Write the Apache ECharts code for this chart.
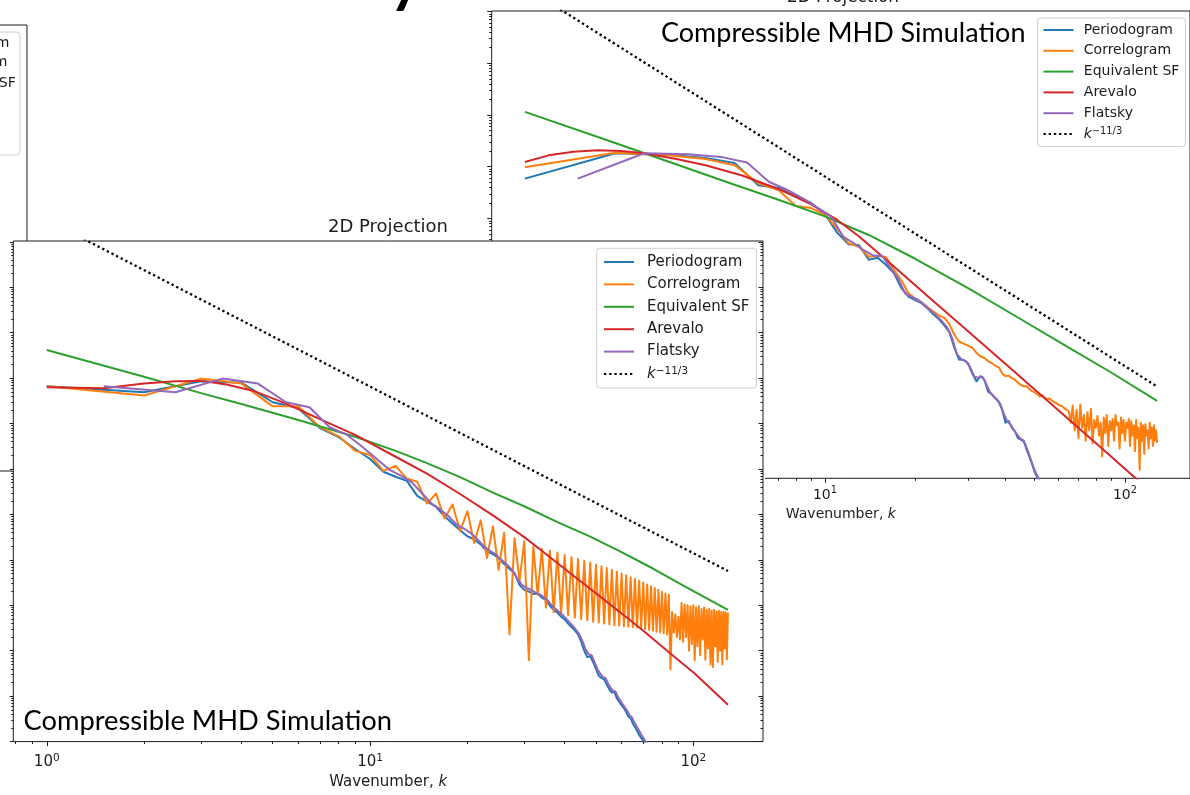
<!DOCTYPE html>
<html><head><meta charset="utf-8">
<script src="https://cdn.jsdelivr.net/npm/echarts@6/dist/echarts.min.js"></script>
<style>html,body{margin:0;padding:0;background:#fff}#c{width:1190px;height:795px}</style>
</head><body><div id="c"></div><script>
// ---------------- data (power values stored as log10) ----------------
const K_INT = [1,2,3,4,5,6,7,8,9,10,11,12,13,14,15,16,17,18,19,20,21,22,23,24,25,26,27,28,29,30,31,32,33,34,35,36,37,38,39,40,41,42,43,44,45,46,47,48,49,50,51,52,53,54,55,56,57,58,59,60,61,62,63,64,65,66,67,68,69,70,71,72,73,74,75,76,77,78,79,80,81,82,83,84,85,86,87,88,89,90,91,92,93,94,95,96,97,98,99,100,101,102,103,104,105,106,107,108,109,110,111,112,113,114,115,116,117,118,119,120,121,122,123,124,125,126,127,128];
const K_HALF = [1.5,2.5,3.5,4.5,5.5,6.5,7.5,8.5,9.5,10.5,11.5,12.5,13.5,14.5,15.5,16.5,17.5,18.5,19.5,20.5,21.5,22.5,23.5,24.5,25.5,26.5,27.5,28.5,29.5,30.5,31.5,32.5,33.5,34.5,35.5,36.5,37.5,38.5,39.5,40.5,41.5,42.5,43.5,44.5,45.5,46.5,47.5,48.5,49.5,50.5,51.5,52.5,53.5,54.5,55.5,56.5,57.5,58.5,59.5,60.5,61.5,62.5,63.5,64.5,65.5,66.5,67.5,68.5,69.5,70.5,71.5,72.5];

// Front panel (2D Projection, lower-left)
const FRONT_PERIODOGRAM = [-2.18,-2.31,-2.07,-2.10,-2.53,-2.66,-3.10,-3.30,-3.56,-3.78,
 -4.06,-4.17,-4.26,-4.59,-4.72,-4.83,-5.04,-5.20,-5.35,-5.48,
 -5.55,-5.66,-5.81,-5.87,-5.96,-6.09,-6.20,-6.29,-6.55,-6.66,
 -6.70,-6.75,-6.74,-6.83,-6.88,-7.01,-7.10,-7.16,-7.25,-7.31,
 -7.40,-7.48,-7.55,-7.64,-7.80,-8.00,-8.14,-8.12,-8.25,-8.40,
 -8.55,-8.60,-8.63,-8.75,-8.85,-8.92,-8.90,-9.05,-9.12,-9.20,
 -9.26,-9.35,-9.45,-9.48,-9.60,-9.68,-9.76,-9.85,-9.92,-9.98,
 -10.05,-10.12];
const FRONT_CORRELOGRAM = [-2.18,-2.38,-2.01,-2.12,-2.62,-2.62,-3.08,-3.28,-3.60,-3.69,
 -4.04,-3.93,-4.21,-4.28,-4.76,-4.54,-5.09,-4.78,-5.37,-4.93,
 -5.63,-5.13,-5.96,-5.26,-6.22,-5.40,-7.64,-5.52,-6.46,-5.59,
 -8.21,-5.70,-6.77,-5.76,-7.05,-5.80,-7.15,-5.84,-7.20,-5.89,
 -7.22,-5.94,-7.27,-5.98,-7.30,-6.02,-7.33,-6.06,-7.36,-6.10,
 -7.38,-6.14,-7.40,-6.18,-7.42,-6.22,-7.44,-6.26,-7.45,-6.30,
 -7.46,-6.34,-7.47,-6.38,-7.48,-6.42,-7.49,-6.46,-7.50,-6.50,
 -7.52,-6.54,-7.54,-6.58,-7.56,-6.62,-7.58,-6.66,-7.60,-6.70,
 -7.62,-6.74,-7.64,-6.77,-8.41,-7.15,-7.60,-7.20,-7.70,-7.25,
 -7.75,-6.95,-7.80,-6.98,-7.70,-7.00,-8.00,-7.02,-7.85,-7.00,
 -8.21,-7.05,-7.90,-7.02,-8.10,-7.08,-7.75,-7.05,-8.20,-7.10,
 -7.95,-7.08,-8.30,-7.12,-8.36,-7.10,-7.90,-7.14,-8.25,-7.12,
 -8.00,-7.15,-8.30,-7.14,-7.95,-7.16,-8.19,-7.16];
const FRONT_EQUIV_SF = [[1,-1.38],[2,-1.97],[3,-2.33],[4,-2.57],[6,-2.92],[9,-3.29],[12,-3.60],[15,-3.87],[19,-4.18],[24,-4.52],[30,-4.82],[38,-5.17],[48,-5.49],[60,-5.83],[75,-6.19],[95,-6.60],[128,-7.10]];
const FRONT_AREVALO = [[1,-2.20],[1.5,-2.22],[2,-2.12],[2.5,-2.07],[3,-2.06],[3.6,-2.14],[4.4,-2.29],[5.5,-2.56],[7,-2.90],[9,-3.25],[12,-3.73],[15,-4.10],[19,-4.55],[24,-5.02],[30,-5.50],[34,-5.80],[43,-6.37],[54,-6.92],[69,-7.52],[87,-8.12],[101,-8.50],[128,-9.19]];
const FRONT_FLATSKY = [-2.18,-2.31,-2.01,-2.12,-2.53,-2.64,-3.08,-3.25,-3.52,-3.78,
 -4.02,-4.15,-4.30,-4.54,-4.76,-4.89,-5.04,-5.22,-5.31,-5.41,
 -5.55,-5.70,-5.80,-5.88,-6.00,-6.10,-6.22,-6.40,-6.55,-6.62,
 -6.66,-6.72,-6.76,-6.82,-6.90,-7.00,-7.08,-7.15,-7.22,-7.30,
 -7.38,-7.46,-7.55,-7.65,-7.80,-7.98,-8.08,-8.10,-8.25,-8.40,
 -8.50,-8.58,-8.60,-8.72,-8.82,-8.88,-8.90,-9.02,-9.10,-9.18,
 -9.25,-9.32,-9.42,-9.46,-9.56,-9.64,-9.72,-9.80,-9.88,-9.95,
 -10.02,-10.10];
const FRONT_KOLMOGOROV = [[1,1.482],[128,-6.245]];

// Back panel (2D Projection, upper-right)
const BACK_PERIODOGRAM = [-3.23,-2.74,-2.77,-2.83,-2.93,-3.36,-3.41,-3.57,-3.70,-3.92,
 -4.28,-4.50,-4.52,-4.80,-4.76,-4.90,-5.06,-5.35,-5.51,-5.58,
 -5.64,-5.74,-5.86,-5.95,-6.07,-6.20,-6.50,-6.73,-6.74,-6.80,
 -7.00,-7.15,-7.05,-7.12,-7.35,-7.40,-7.48,-7.55,-7.70,-7.95,
 -7.92,-8.05,-8.12,-8.25,-8.28,-8.30,-8.47,-8.60,-8.75,-8.90,
 -9.00,-9.10];
const BACK_CORRELOGRAM = [-3.01,-2.73,-2.78,-2.85,-2.97,-3.32,-3.45,-3.76,-3.80,-3.93,
 -4.20,-4.48,-4.55,-4.74,-4.72,-4.75,-5.00,-5.20,-5.45,-5.55,
 -5.62,-5.72,-5.80,-5.88,-5.92,-6.05,-6.25,-6.38,-6.42,-6.46,
 -6.50,-6.60,-6.67,-6.70,-6.76,-6.80,-6.85,-6.88,-7.00,-7.05,
 -7.04,-7.09,-7.12,-7.18,-7.22,-7.25,-7.24,-7.30,-7.34,-7.36,
 -7.40,-7.44,-7.42,-7.47,-7.50,-7.48,-7.52,-7.55,-7.57,-7.60,
 -7.62,-7.64,-7.68,-7.70,-7.73,
 -7.95,-7.62,-8.10,-7.70,-8.25,-7.60,-8.05,-7.80,-8.30,-7.75,
 -8.10,-7.68,-8.35,-7.90,-8.05,-7.82,-8.20,-7.95,-8.60,-7.85,
 -8.15,-7.80,-8.40,-7.92,-8.10,-7.88,-8.30,-7.80,-8.00,-7.95,
 -8.45,-7.85,-8.15,-7.90,-8.30,-7.95,-8.05,-7.88,-8.40,-7.92,
 -8.20,-8.00,-8.50,-7.90,-8.25,-8.05,-8.86,-7.95,-8.30,-8.00,
 -8.55,-7.98,-8.20,-8.10,-8.45,-7.95,-8.25,-8.05,-8.40,-8.00,
 -8.30,-8.10,-8.34];
const BACK_EQUIV_SF = [[1,-1.94],[2,-2.54],[3,-2.90],[5,-3.35],[7,-3.64],[10,-3.96],[14,-4.32],[20,-4.78],[30,-5.35],[45,-5.95],[65,-6.50],[90,-6.98],[128,-7.53]];
const BACK_AREVALO = [[1,-2.91],[1.2,-2.78],[1.45,-2.71],[1.75,-2.68],[2.1,-2.695],[2.5,-2.74],[3.2,-2.85],[4,-2.97],[5.3,-3.17],[7.2,-3.46],[9,-3.73],[11,-4.03],[13,-4.35],[16,-4.80],[21.5,-5.45],[30,-6.18],[42,-6.92],[60,-7.71],[85,-8.48],[106,-8.97],[128,-9.39]];
const BACK_FLATSKY = [-3.23,-2.74,-2.76,-2.81,-2.92,-3.29,-3.45,-3.62,-3.80,-3.97,
 -4.35,-4.48,-4.62,-4.72,-4.72,-4.95,-5.15,-5.45,-5.52,-5.58,
 -5.68,-5.78,-5.88,-5.98,-6.10,-6.30,-6.62,-6.72,-6.76,-6.88,
 -7.06,-7.08,-7.06,-7.20,-7.36,-7.44,-7.50,-7.60,-7.78,-7.92,
 -7.98,-8.08,-8.16,-8.24,-8.28,-8.36,-8.50,-8.65,-8.80,-8.92,
 -9.02,-9.12];
const BACK_KOLMOGOROV = [[1,0.476],[128,-7.25]];

const SERIES_NAMES = ['Periodogram','Correlogram','Equivalent SF','Arevalo','Flatsky','k^{-11/3}'];
const X_TICK_LABELS = [1, 10, 100];

// ---------------- helpers ----------------
const F = '"DejaVu Sans"';
const INK = '#1c1c1c';
const COLORS = ['#1f77b4','#ff7f0e','#2ca02c','#d62728','#9467bd','#000000'];
const pts = (ks, logs) => logs.map((e, i) => [ks[i], Math.pow(10, e)]);
const pairPts = arr => arr.map(p => [p[0], Math.pow(10, p[1])]);

function majors(lo, hi) { const o = []; for (let e = -12; e <= 4; e++) { const v = Math.pow(10, e); if (v >= lo * 0.9999 && v <= hi * 1.0001) o.push(v); } return o; }
function minors(lo, hi) { const o = []; for (let e = -12; e <= 4; e++) for (let m = 2; m <= 9; m++) { const v = m * Math.pow(10, e); if (v >= lo && v <= hi) o.push(v); } return o; }

const FX = [0.788, 164.3], FY = [1e-10, 10.45];
const BX = [0.775, 164.8], BY = [9.42e-10, 1.027];

const supLabel = (fs) => ({
  formatter: v => '{b|10}{s|' + Math.round(Math.log10(v)) + '}',
  rich: {
    b: { fontSize: fs, fontFamily: F, color: INK, lineHeight: fs + 5 },
    s: { fontSize: fs * 0.7, fontFamily: F, color: INK, verticalAlign: 'top', lineHeight: fs * 0.75 }
  }
});

function xAxisDef(grid, ext, ticks, len, zl, label, name) {
  const a = {
    type: 'log', logBase: 10, gridIndex: grid, min: ext[0], max: ext[1], position: 'bottom', zlevel: zl, z: 3,
    axisLine: { show: false }, splitLine: { show: false }, minorTick: { show: false },
    axisTick: { show: true, customValues: ticks, length: len, lineStyle: { color: INK, width: 1 } },
    axisLabel: { show: false }, silent: true
  };
  if (label) {
    a.axisLabel = Object.assign({ show: true, customValues: X_TICK_LABELS, margin: label.margin }, supLabel(label.fs));
    a.name = 'Wavenumber, {i|k}';
    a.nameLocation = 'middle';
    a.nameGap = name.gap;
    a.nameTextStyle = { fontFamily: F, fontSize: name.fs, color: INK, rich: { i: { fontFamily: F, fontSize: name.fs, fontStyle: 'italic', color: INK } } };
  }
  return a;
}
function yAxisDef(grid, ext, ticks, len, zl, pos, inside) {
  return {
    type: 'log', logBase: 10, gridIndex: grid, min: ext[0], max: ext[1], position: pos, zlevel: zl, z: 3,
    axisLine: { show: false }, splitLine: { show: false }, minorTick: { show: false },
    axisTick: { show: true, inside: !!inside, customValues: ticks, length: len, lineStyle: { color: INK, width: 1 } },
    axisLabel: { show: false }, silent: true
  };
}
function line(name, data, xi, yi, color, zl, dotted) {
  return {
    type: 'line', name, data, xAxisIndex: xi, yAxisIndex: yi, symbol: 'none', showSymbol: false,
    zlevel: zl, z: 2, silent: true, clip: true, animation: false, emphasis: { disabled: true },
    itemStyle: { color },
    lineStyle: { color, width: dotted ? 2.3 : 2, type: dotted ? [2.3, 2.9] : 'solid', cap: 'butt', join: 'round' }
  };
}
function legendDef(left, top, fs, itemH, gap, pad, textPad, zl) {
  return {
    show: true, zlevel: zl, z: 6, left, top, orient: 'vertical', selectedMode: false,
    data: SERIES_NAMES, itemWidth: 30, itemHeight: itemH, itemGap: gap, padding: pad,
    itemStyle: { opacity: 0, borderWidth: 0 },
    backgroundColor: 'rgba(255,255,255,0.9)', borderColor: '#cfcfcf', borderWidth: 1, borderRadius: 3,
    formatter: n => n === 'k^{-11/3}' ? '{i|k}{s|\u221211/3}' : n,
    textStyle: {
      fontFamily: F, fontSize: fs, color: INK, lineHeight: itemH, padding: [0, 0, 0, textPad],
      rich: {
        i: { fontFamily: F, fontSize: fs, fontStyle: 'italic', color: INK },
        s: { fontFamily: F, fontSize: fs * 0.7, color: INK, verticalAlign: 'top' }
      }
    }
  };
}
function text(x, y, str, font, zl, align, va, fill) {
  return { type: 'text', x, y, zlevel: zl, z: 20, silent: true,
    style: { text: str, font, fill: fill || INK, align: align || 'left', textAlign: align || 'left', verticalAlign: va || 'middle', textVerticalAlign: va || 'middle' } };
}

// ---------------- option ----------------
const option = {
  animation: false,
  backgroundColor: '#ffffff',
  grid: [
    { left: 491.7, top: 11, width: 702.1, height: 467.3, show: true, borderColor: INK, borderWidth: 1, backgroundColor: '#fff', zlevel: 0 },
    { left: 13.3, top: 241, width: 749.7, height: 505, show: true, borderColor: INK, borderWidth: 1, backgroundColor: '#fff', zlevel: 1 }
  ],
  xAxis: [
    xAxisDef(0, BX, majors(BX[0], BX[1]), 4.5, 0, { fs: 14, margin: 7.5 }, { fs: 14, gap: 26 }),
    xAxisDef(0, BX, minors(BX[0], BX[1]), 2.5, 0),
    xAxisDef(1, FX, majors(FX[0], FX[1]), 4.5, 1, { fs: 15, margin: 11 }, { fs: 15, gap: 32 }),
    xAxisDef(1, FX, minors(FX[0], FX[1]), 2.5, 1)
  ],
  yAxis: [
    yAxisDef(0, BY, majors(BY[0], BY[1]), 4.5, 0, 'left'),
    yAxisDef(0, BY, minors(BY[0], BY[1]), 2.5, 0, 'left'),
    yAxisDef(1, FY, majors(FY[0], FY[1]), 3.5, 1, 'left'),
    yAxisDef(1, FY, minors(FY[0], FY[1]), 2, 1, 'left'),
    yAxisDef(1, FY, majors(FY[0], FY[1]), 4.5, 1, 'right', true),
    yAxisDef(1, FY, minors(FY[0], FY[1]), 2.5, 1, 'right', true)
  ],
  legend: [
    legendDef(1037.5, 18, 14, 15, 5.8, [4.5, 6, 5, 5], 5.3, 0),
    legendDef(596.7, 248.3, 15, 16, 6.4, [5.7, 7, 6, 6.3], 8, 1)
  ],
  series: [
    line(SERIES_NAMES[0], pts(K_INT, BACK_PERIODOGRAM), 0, 0, COLORS[0], 0),
    line(SERIES_NAMES[1], pts(K_INT, BACK_CORRELOGRAM), 0, 0, COLORS[1], 0),
    line(SERIES_NAMES[2], pairPts(BACK_EQUIV_SF), 0, 0, COLORS[2], 0),
    line(SERIES_NAMES[3], pairPts(BACK_AREVALO), 0, 0, COLORS[3], 0),
    line(SERIES_NAMES[4], pts(K_HALF, BACK_FLATSKY), 0, 0, COLORS[4], 0),
    line(SERIES_NAMES[5], pairPts(BACK_KOLMOGOROV), 0, 0, COLORS[5], 0, true),
    line(SERIES_NAMES[0], pts(K_INT, FRONT_PERIODOGRAM), 2, 2, COLORS[0], 1),
    line(SERIES_NAMES[1], pts(K_INT, FRONT_CORRELOGRAM), 2, 2, COLORS[1], 1),
    line(SERIES_NAMES[2], pairPts(FRONT_EQUIV_SF), 2, 2, COLORS[2], 1),
    line(SERIES_NAMES[3], pairPts(FRONT_AREVALO), 2, 2, COLORS[3], 1),
    line(SERIES_NAMES[4], pts(K_HALF, FRONT_FLATSKY), 2, 2, COLORS[4], 1),
    line(SERIES_NAMES[5], pairPts(FRONT_KOLMOGOROV), 2, 2, COLORS[5], 1, true)
  ],
  graphic: { elements: [
    // far-left partially visible panel
    { type: 'rect', zlevel: 0, z: 1, silent: true, shape: { x: -20, y: 25, width: 47, height: 446 }, style: { fill: 'none', stroke: INK, lineWidth: 1 } },
    { type: 'rect', zlevel: 0, z: 2, silent: true, shape: { x: -180, y: 32, width: 200, height: 123, r: 3 }, style: { fill: '#fff', stroke: '#cfcfcf', lineWidth: 1 } },
    text(-79.8, 43, 'Periodogram', '14px ' + F, 0),
    text(-79.8, 62.5, 'Correlogram', '14px ' + F, 0),
    text(-79.8, 83, 'Equivalent SF', '14px ' + F, 0),
    // slide title fragment
    text(405, 12, 'y', 'bold 60px Lato', 0, 'center', 'bottom', '#000'),
    // back panel title and caption
    text(843, -2.5, '2D Projection', '16.8px ' + F, 0, 'center', 'middle'),
    text(661, 33, 'Compressible MHD Simulation', '27px Lato', 0, 'left', 'middle', '#000'),
    // front panel paper
    { type: 'rect', zlevel: 1, z: -5, silent: true, shape: { x: 11.5, y: 241, width: 753.5, height: 560 }, style: { fill: '#fff' } },
    text(388, 227, '2D Projection', '18px ' + F, 1, 'center', 'middle'),
    text(23.5, 721, 'Compressible MHD Simulation', '27.3px Lato', 1, 'left', 'middle', '#000')
  ] }
};

const chart = echarts.init(document.getElementById('c'), null, { renderer: 'canvas', width: 1190, height: 795 });
chart.setOption(option);
</script></body></html>
